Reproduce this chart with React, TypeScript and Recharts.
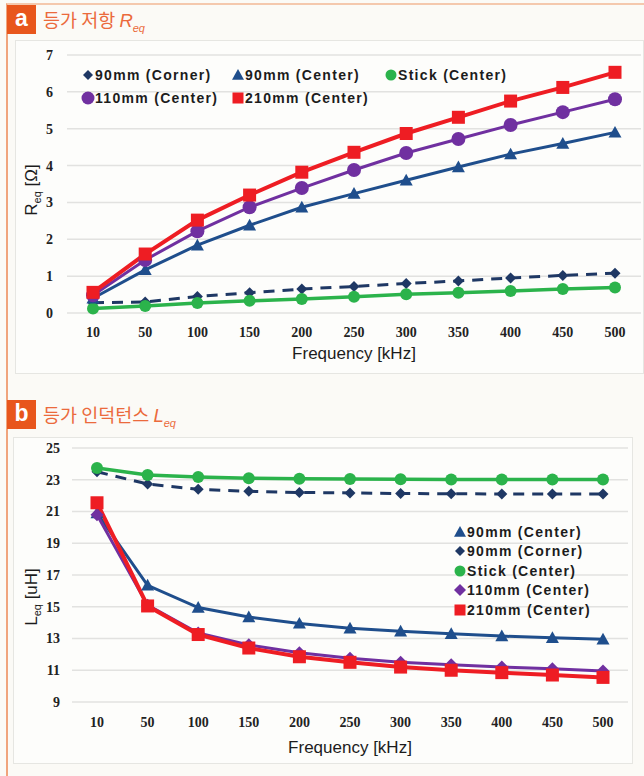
import { LineChart, Line, XAxis, YAxis, CartesianGrid, Legend, Label } from "recharts"

// frequency categories [kHz]
const frequencies = ["10", "50", "100", "150", "200", "250", "300", "350", "400", "450", "500"]

// (a) R_eq [Ω]
const reqCorner90 = [0.28, 0.3, 0.45, 0.55, 0.65, 0.72, 0.8, 0.87, 0.95, 1.02, 1.08]
const reqCenter90 = [0.4, 1.17, 1.84, 2.38, 2.87, 3.24, 3.6, 3.96, 4.31, 4.6, 4.9]
const reqStick = [0.12, 0.19, 0.27, 0.33, 0.38, 0.44, 0.51, 0.55, 0.6, 0.65, 0.69]
const req110 = [0.48, 1.44, 2.22, 2.87, 3.39, 3.88, 4.34, 4.72, 5.1, 5.45, 5.8]
const req210 = [0.56, 1.6, 2.52, 3.2, 3.82, 4.36, 4.87, 5.31, 5.75, 6.12, 6.53]

// (b) L_eq [uH]
const leqCorner90 = [23.5, 22.73, 22.4, 22.27, 22.2, 22.17, 22.13, 22.12, 22.1, 22.1, 22.1]
const leqCenter90 = [20.9, 16.35, 14.95, 14.35, 13.95, 13.65, 13.45, 13.3, 13.15, 13.05, 12.95]
const leqStick = [23.74, 23.3, 23.17, 23.1, 23.07, 23.05, 23.03, 23.02, 23.02, 23.02, 23.02]
const leq110 = [20.8, 15.1, 13.35, 12.6, 12.1, 11.75, 11.5, 11.35, 11.2, 11.1, 10.95]
const leq210 = [21.55, 15.05, 13.25, 12.4, 11.85, 11.5, 11.2, 11.0, 10.85, 10.7, 10.55]

const reqTicks = [0, 1, 2, 3, 4, 5, 6, 7]
const leqTicks = [9, 11, 13, 15, 17, 19, 21, 23, 25]

const RED = "#ee1d23"
const PURPLE = "#7030a0"
const BLUE = "#1f4e8c"
const NAVY = "#1f3864"
const GREEN = "#2bb34b"

const reqData = frequencies.map((f, i) => ({
  freq: f,
  corner: reqCorner90[i],
  center: reqCenter90[i],
  stick: reqStick[i],
  c110: req110[i],
  c210: req210[i],
}))

const leqData = frequencies.map((f, i) => ({
  freq: f,
  corner: leqCorner90[i],
  center: leqCenter90[i],
  stick: leqStick[i],
  c110: leq110[i],
  c210: leq210[i],
}))

type Shape = "diamond" | "triangle" | "circle" | "square"

function drawShape(shape: Shape, cx: number, cy: number, s: number, color: string, key?: any) {
  const h = s / 2
  if (shape === "diamond") {
    return <polygon key={key} points={`${cx},${cy - h} ${cx + h},${cy} ${cx},${cy + h} ${cx - h},${cy}`} fill={color} />
  }
  if (shape === "triangle") {
    return <polygon key={key} points={`${cx},${cy - h} ${cx + h},${cy + h * 0.8} ${cx - h},${cy + h * 0.8}`} fill={color} />
  }
  if (shape === "square") {
    return <rect key={key} x={cx - h} y={cy - h} width={s} height={s} fill={color} />
  }
  return <circle key={key} cx={cx} cy={cy} r={h} fill={color} />
}

const marker = (shape: Shape, color: string, size: number) => (props: any) => {
  const { cx, cy, index } = props
  if (cx == null || cy == null) return <g key={index} />
  return drawShape(shape, cx, cy, size, color, index)
}

const LegendIcon = ({ shape, color, size }: { shape: Shape; color: string; size: number }) => (
  <svg width={14} height={14} style={{ display: "block", flex: "none" }}>
    {drawShape(shape, 7, 7, size, color)}
  </svg>
)

const legendText: React.CSSProperties = {
  fontFamily: "'Liberation Sans', Arial, sans-serif",
  fontWeight: 700,
  fontSize: 14,
  letterSpacing: 1.3,
  color: "#1c1c1c",
  whiteSpace: "nowrap",
}

const topLegendItems = [
  { label: "90mm (Corner)", shape: "diamond" as Shape, color: NAVY, size: 10, x: 0, y: 0 },
  { label: "90mm (Center)", shape: "triangle" as Shape, color: BLUE, size: 12, x: 150, y: 0 },
  { label: "Stick (Center)", shape: "circle" as Shape, color: GREEN, size: 11, x: 303, y: 0 },
  { label: "110mm (Center)", shape: "circle" as Shape, color: PURPLE, size: 13, x: 0, y: 23 },
  { label: "210mm (Center)", shape: "square" as Shape, color: RED, size: 11, x: 150, y: 23 },
]

const bottomLegendItems = [
  { label: "90mm (Center)", shape: "triangle" as Shape, color: BLUE, size: 12 },
  { label: "90mm (Corner)", shape: "diamond" as Shape, color: NAVY, size: 10 },
  { label: "Stick (Center)", shape: "circle" as Shape, color: GREEN, size: 11 },
  { label: "110mm (Center)", shape: "diamond" as Shape, color: PURPLE, size: 12 },
  { label: "210mm (Center)", shape: "square" as Shape, color: RED, size: 11 },
]

const renderTopLegend = () => (
  <div style={{ position: "relative", width: 460, height: 46 }}>
    {topLegendItems.map((it) => (
      <div key={it.label} style={{ position: "absolute", left: it.x, top: it.y, display: "flex", alignItems: "center", height: 18 }}>
        <LegendIcon shape={it.shape} color={it.color} size={it.size} />
        <span style={legendText}>{it.label}</span>
      </div>
    ))}
  </div>
)

const renderBottomLegend = () => (
  <div style={{ width: 180 }}>
    {bottomLegendItems.map((it) => (
      <div key={it.label} style={{ display: "flex", alignItems: "center", height: 19.5 }}>
        <LegendIcon shape={it.shape} color={it.color} size={it.size} />
        <span style={legendText}>{it.label}</span>
      </div>
    ))}
  </div>
)

const yAxisLabel = (main: string, sub: string, unit: string, cx: number, cy: number) => () => (
  <text
    x={cx}
    y={cy}
    transform={`rotate(-90, ${cx}, ${cy})`}
    textAnchor="middle"
    fontFamily="'Liberation Sans', Arial, sans-serif"
    fontSize={17}
    fill="#1c1c1c"
  >
    <tspan>{main}</tspan>
    <tspan fontSize={11} dy={4}>{sub}</tspan>
    <tspan dy={-4}>{` [${unit}]`}</tspan>
  </text>
)

const tickStyle = {
  fontFamily: "'Liberation Serif', 'Times New Roman', serif",
  fontWeight: 700,
  fontSize: 14,
  fill: "#222",
}

const xLabelStyle = {
  fontFamily: "'Liberation Sans', Arial, sans-serif",
  fontSize: 17,
  fill: "#1c1c1c",
}

const Header = ({ letter, title, sub, top }: { letter: string; title: string; sub: string; top: number }) => (
  <div style={{ position: "absolute", left: 7, top, display: "flex", alignItems: "center", height: 29 }}>
    <div
      style={{
        width: 29,
        height: 29,
        background: "#e8561c",
        color: "#fff",
        fontFamily: "'Liberation Sans', Arial, sans-serif",
        fontWeight: 700,
        fontSize: 23,
        display: "flex",
        alignItems: "center",
        justifyContent: "center",
        lineHeight: 1,
        paddingBottom: 3,
        boxSizing: "border-box",
      }}
    >
      {letter}
    </div>
    <div style={{ marginLeft: 7, color: "#eb6a3c", fontFamily: "'Noto Sans CJK KR', sans-serif", fontSize: 18.5, whiteSpace: "nowrap" }}>
      {title}
      <i style={{ fontFamily: "'Liberation Sans', Arial, sans-serif" }}>{sub[0]}</i>
      <sub style={{ fontFamily: "'Liberation Sans', Arial, sans-serif", fontSize: 11, fontStyle: "italic" }}>{sub.slice(1)}</sub>
    </div>
  </div>
)

export default function App() {
  return (
    <div style={{ position: "absolute", left: 0, top: 0, width: 644, height: 776, background: "#fbfaf6", overflow: "hidden" }}>
      {/* panel frame */}
      <div style={{ position: "absolute", left: 6, top: 3, width: 640, height: 790, borderLeft: "2px solid #f0a47c", borderTop: "2px solid #f4c8ad" }} />

      <Header letter="a" title="등가 저항 " sub="Req" top={5} />
      <div style={{ position: "absolute", left: 15, top: 40, width: 627, height: 332, border: "1px solid #e6e6e2", background: "#fdfdfb" }} />
      <div style={{ position: "absolute", left: 0, top: 40 }}>
        <LineChart width={644} height={335} data={reqData} margin={{ top: 15, right: 3, left: 0, bottom: 0 }}>
          <CartesianGrid vertical={false} stroke="#e2e2e0" strokeWidth={1.5} />
          <XAxis
            dataKey="freq"
            axisLine={false}
            tickLine={false}
            tickSize={0}
            tickMargin={14}
            height={62}
            tick={tickStyle}
            interval={0}
            padding={{ left: 26, right: 26 }}
          >
            <Label value="Frequency [kHz]" position="insideBottom" offset={16} style={xLabelStyle} />
          </XAxis>
          <YAxis
            domain={[0, 7]}
            ticks={reqTicks}
            axisLine={false}
            tickLine={false}
            tickSize={0}
            tickMargin={14}
            width={67}
            tick={tickStyle}
          >
            <Label content={yAxisLabel("R", "eq", "Ω", 37, 150)} />
          </YAxis>
          <Legend verticalAlign="middle" align="center" content={renderTopLegend} wrapperStyle={{ top: 26, left: 81, width: 460 }} />
          <Line dataKey="corner" stroke={NAVY} strokeWidth={3} strokeDasharray="11 8" dot={marker("diamond", NAVY, 11)} activeDot={false} isAnimationActive={false} />
          <Line dataKey="stick" stroke={GREEN} strokeWidth={3.5} dot={marker("circle", GREEN, 12)} activeDot={false} isAnimationActive={false} />
          <Line dataKey="center" stroke={BLUE} strokeWidth={3} dot={marker("triangle", BLUE, 13)} activeDot={false} isAnimationActive={false} />
          <Line dataKey="c110" stroke={PURPLE} strokeWidth={3} dot={marker("circle", PURPLE, 14)} activeDot={false} isAnimationActive={false} />
          <Line dataKey="c210" stroke={RED} strokeWidth={4} dot={marker("square", RED, 13)} activeDot={false} isAnimationActive={false} />
        </LineChart>
      </div>

      <Header letter="b" title="등가 인덕턴스 " sub="Leq" top={400} />
      <div style={{ position: "absolute", left: 13, top: 437, width: 618, height: 325, border: "1px solid #e6e6e2", background: "#fdfdfb" }} />
      <div style={{ position: "absolute", left: 0, top: 437 }}>
        <LineChart width={644} height={325} data={leqData} margin={{ top: 11, right: 16, left: 0, bottom: 0 }}>
          <CartesianGrid vertical={false} stroke="#e2e2e0" strokeWidth={1.5} />
          <XAxis
            dataKey="freq"
            axisLine={false}
            tickLine={false}
            tickSize={0}
            tickMargin={15}
            height={60}
            tick={tickStyle}
            interval={0}
            padding={{ left: 25, right: 25 }}
          >
            <Label value="Frequency [kHz]" position="insideBottom" offset={9} style={xLabelStyle} />
          </XAxis>
          <YAxis
            domain={[9, 25]}
            ticks={leqTicks}
            axisLine={false}
            tickLine={false}
            tickSize={0}
            tickMargin={12}
            width={72}
            tick={tickStyle}
          >
            <Label content={yAxisLabel("L", "eq", "uH", 37, 160)} />
          </YAxis>
          <Legend verticalAlign="middle" align="center" content={renderBottomLegend} wrapperStyle={{ top: 85, left: 453, width: 180 }} />
          <Line dataKey="corner" stroke={NAVY} strokeWidth={3} strokeDasharray="11 8" dot={marker("diamond", NAVY, 11)} activeDot={false} isAnimationActive={false} />
          <Line dataKey="stick" stroke={GREEN} strokeWidth={3.5} dot={marker("circle", GREEN, 12)} activeDot={false} isAnimationActive={false} />
          <Line dataKey="center" stroke={BLUE} strokeWidth={3} dot={marker("triangle", BLUE, 13)} activeDot={false} isAnimationActive={false} />
          <Line dataKey="c110" stroke={PURPLE} strokeWidth={3} dot={marker("diamond", PURPLE, 13)} activeDot={false} isAnimationActive={false} />
          <Line dataKey="c210" stroke={RED} strokeWidth={4} dot={marker("square", RED, 13)} activeDot={false} isAnimationActive={false} />
        </LineChart>
      </div>
    </div>
  )
}
